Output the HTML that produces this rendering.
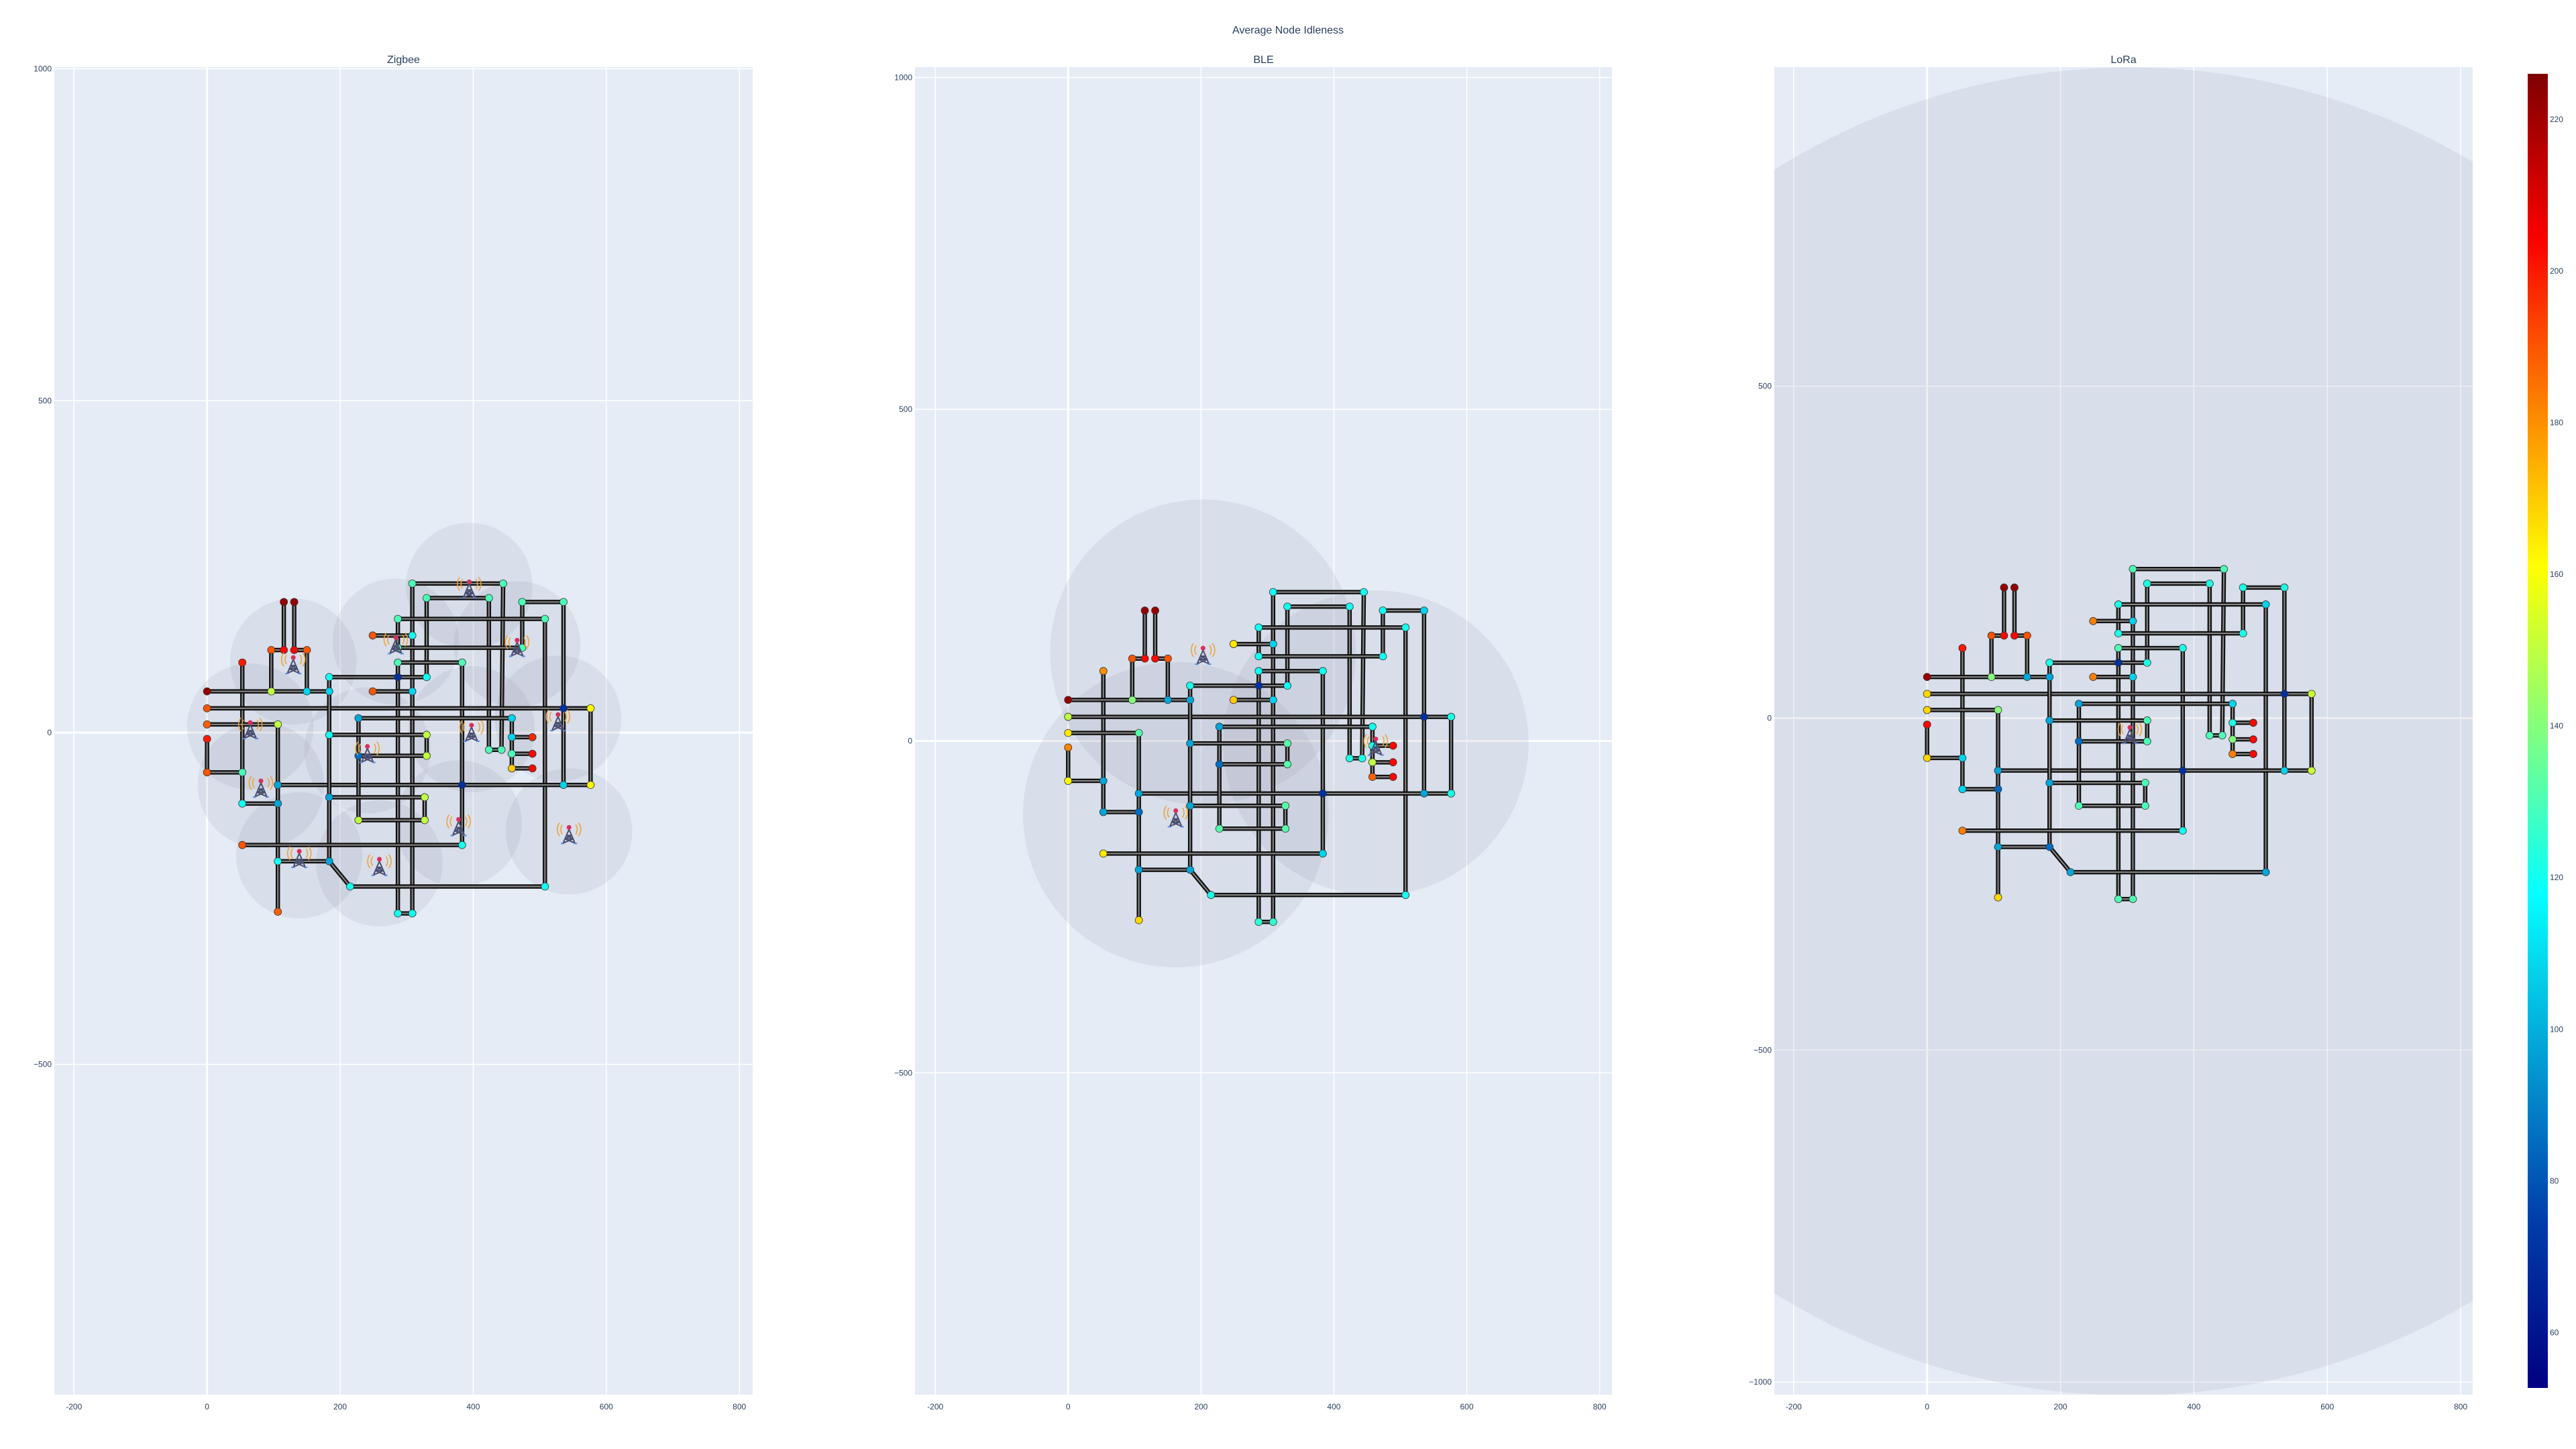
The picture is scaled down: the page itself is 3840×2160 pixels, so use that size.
<!DOCTYPE html>
<html><head><meta charset="utf-8"><style>
html,body{margin:0;padding:0;background:#fff;}
svg{display:block;font-family:"Liberation Sans",sans-serif;}
</style></head><body>
<svg id="chart" width="3840" height="2160" viewBox="0 0 3840 2160" xmlns="http://www.w3.org/2000/svg">
<defs>
<linearGradient id="jet" x1="0" y1="1" x2="0" y2="0">
<stop offset="0" stop-color="rgb(0,0,131)"/><stop offset="0.125" stop-color="rgb(0,60,170)"/>
<stop offset="0.375" stop-color="rgb(5,255,255)"/><stop offset="0.625" stop-color="rgb(255,255,0)"/>
<stop offset="0.875" stop-color="rgb(250,0,0)"/><stop offset="1" stop-color="rgb(128,0,0)"/>
</linearGradient>
<clipPath id="c0"><rect x="81" y="100" width="1041" height="1979"/></clipPath>
<clipPath id="c1"><rect x="1364" y="100" width="1039" height="1979"/></clipPath>
<clipPath id="c2"><rect x="2645" y="100" width="1041" height="1979"/></clipPath>
</defs>
<text x="1920" y="50" text-anchor="middle" font-size="16" fill="#2a3f5f">Average Node Idleness</text>
</svg>
<script>
const nodeX=[308.5,445,330,423.6,473.7,535.7,286.8,507.8,249,308.5,286.8,473.7,115.4,131,96.5,115.4,131,150,53,286.8,383.3,183.6,286.8,330,0,96.5,150,183.6,249,308.5,0,535.7,576.4,0,106.4,227.6,458,183.6,330,0,458,489,423.6,442.5,227.6,330,458,489,458,489,0,53,106.4,383.3,535.7,576.4,183.6,327,53,106.4,227.6,327,53,383.3,106.4,183.6,215,507.8,106.4,286.8,308.5];
const nodeY=[224.5,224.5,202.6,202.6,196.7,196.7,171.2,171.2,146.2,146.2,127.7,127.7,196.7,196.7,124.3,124.3,124.3,124.3,105.5,105.5,105.5,83.5,83.5,83.5,62,62,62,62,62,62,36.5,36.5,36.5,12.2,12.2,21.6,21.6,-3.5,-3.5,-9.7,-7,-7,-26,-26,-35,-35,-32,-32,-54,-54,-60,-60,-79,-79,-79,-79,-97.5,-97.5,-107,-107,-132,-132,-169.5,-169.5,-194,-194,-232,-232,-270,-272.5,-272.5];
const edgeFrom=[1,1,10,30,2,3,3,4,5,5,6,7,7,8,9,11,13,14,15,17,15,18,19,52,20,20,21,54,22,23,22,23,25,26,27,29,31,32,32,33,55,54,53,34,35,36,36,37,41,47,41,47,49,38,28,38,57,39,45,45,57,58,61,40,51,53,59,60,65,65,66,67,63,43,70];
const edgeTo=[2,10,30,71,44,4,24,43,6,12,32,8,11,68,10,12,16,17,16,18,26,27,52,59,21,23,54,64,23,24,28,70,26,27,28,30,32,33,55,56,56,55,54,35,53,37,45,41,47,49,42,48,50,39,38,57,66,46,46,61,58,62,62,51,52,60,60,65,69,66,67,68,64,44,71];
const valuesZigbee=[130,130,130,130,130,130,130,130,190,120,130,130,222,222,190,203,203,190,200,130,130,120,70,120,222,150,108,108,190,108,190,70,162,188,150,98,108,120,150,200,108,198,130,130,85,150,130,203,170,203,190,130,98,70,108,162,98,150,120,98,150,150,190,120,120,98,120,120,188,120,120];
const valuesBLE=[120,120,120,120,120,108,120,120,165,108,120,120,222,222,190,203,203,190,180,120,120,120,70,120,222,140,98,98,170,108,150,70,122,165,132,98,120,98,132,182,120,203,122,122,85,132,150,203,188,203,162,98,98,70,98,122,98,132,98,85,132,132,165,108,98,98,122,120,168,125,125];
const valuesLoRa=[130,130,122,122,122,122,122,108,183,108,122,122,222,222,190,203,203,190,200,130,122,122,70,122,222,140,98,98,183,108,168,70,152,168,140,98,108,98,130,203,122,203,130,130,85,130,140,203,183,203,168,108,98,70,108,152,98,130,108,85,130,130,183,120,98,85,98,98,168,130,130];
const towersZigbeeX=[394,283.6,466,129.6,65,397.5,527.5,241,81,378,544,138.6,259];
const towersZigbeeY=[221,137,133,107,9,5,21,-27,-79,-137,-149,-185,-197];
const towersBLEX=[203,162,463];
const towersBLEY=[134,-111,-3];
const towersLoRaX=[304];
const towersLoRaY=[-20];
const rangeZigbee=95, rangeBLE=230, rangeLoRa=1000;
const xTicks=[-200,0,200,400,600,800];
const cbTicks=[60,80,100,120,140,160,180,200,220];

const NS="http://www.w3.org/2000/svg";
const svg=document.getElementById('chart');
function mk(tag,attrs,parent){const e=document.createElementNS(NS,tag);for(const k in attrs)e.setAttribute(k,attrs[k]);(parent||svg).appendChild(e);return e;}
const VMIN=52.7,VMAX=226;
const stops=[[0,[0,0,131]],[0.125,[0,60,170]],[0.375,[5,255,255]],[0.625,[255,255,0]],[0.875,[250,0,0]],[1,[128,0,0]]];
function jet(v){let t=(v-VMIN)/(VMAX-VMIN);t=Math.max(0,Math.min(1,t));for(let i=1;i<stops.length;i++){if(t<=stops[i][0]){const a=stops[i-1],b=stops[i];const f=(t-a[0])/(b[0]-a[0]);return 'rgb('+a[1].map((c,j)=>Math.round(c+(b[1][j]-c)*f)).join(',')+')';}}return 'rgb(128,0,0)';}

const panels=[
 {name:'zigbee',title:'Zigbee',L:81,R:1122,T:100,B:2079,x0:-229.5,x1:820,y0:-997.6,y1:1002.6,yt:[-500,0,500,1000],vals:valuesZigbee,tx:towersZigbeeX,ty:towersZigbeeY,r:rangeZigbee,clip:'c0'},
 {name:'ble',title:'BLE',L:1364,R:2403,T:100,B:2079,x0:-230.5,x1:818.6,y0:-985,y1:1015.7,yt:[-500,0,500,1000],vals:valuesBLE,tx:towersBLEX,ty:towersBLEY,r:rangeBLE,clip:'c1'},
 {name:'lora',title:'LoRa',L:2645,R:3686,T:100,B:2079,x0:-229,x1:818,y0:-1019,y1:980.6,yt:[-1000,-500,0,500],vals:valuesLoRa,tx:towersLoRaX,ty:towersLoRaY,r:rangeLoRa,clip:'c2'}
];

function tower(g,cx,cy){
 const t=mk('g',{transform:'translate('+cx+','+cy+')'},g);
 mk('path',{d:'M-10,-10 A12,12 0 0,0 -10,4 M-14,-13 A16,16 0 0,0 -14,7 M10,-10 A12,12 0 0,1 10,4 M14,-13 A16,16 0 0,1 14,7',stroke:'#f0a030',fill:'none','stroke-width':1.5},t);
 mk('path',{d:'M0,-3 L-9,18 M0,-3 L9,18 M-4,6 L4,6 M-6,11 L6,11 M-4,6 L6,11 M4,6 L-6,11 M-6,11 L8,17 M6,11 L-8,17',stroke:'#4a4e70',fill:'none','stroke-width':2},t);
 mk('path',{d:'M-12,18 L-7,18 M7,18 L12,18',stroke:'#5a8ae0','stroke-width':2},t);
 mk('circle',{cx:0,cy:-6,r:3.5,fill:'#d8305a'},t);
}

panels.forEach(p=>{
 const sx=v=>p.L+(v-p.x0)/(p.x1-p.x0)*(p.R-p.L);
 const sy=v=>p.B-(v-p.y0)/(p.y1-p.y0)*(p.B-p.T);
 const g=mk('g',{});
 
 
 mk('rect',{x:p.L,y:p.T,width:p.R-p.L,height:p.B-p.T,fill:'#E5ECF6'},g);
 xTicks.forEach(v=>{
  const x=sx(v);
  mk('line',{x1:x,x2:x,y1:p.T,y2:p.B,stroke:'#fff','stroke-width':v===0?3:1.5},g);
  const t=mk('text',{x:x,y:p.B+22,'text-anchor':'middle','font-size':12,fill:'#2a3f5f'},g);t.textContent=v;
  
  
 });
 p.yt.forEach(v=>{
  const y=sy(v);
  mk('line',{x1:p.L,x2:p.R,y1:y,y2:y,stroke:'#fff','stroke-width':v===0?3:1.5},g);
  const t=mk('text',{x:p.L-4,y:y+4,'text-anchor':'end','font-size':12,fill:'#2a3f5f'},g);t.textContent=(v<0?'\u2212'+(-v):v);
  
  
 });
 const tt=mk('text',{x:(p.L+p.R)/2,y:94,'text-anchor':'middle','font-size':16,fill:'#2a3f5f'},g);tt.textContent=p.title;
 
 
 const cg=mk('g',{'clip-path':'url(#'+p.clip+')'},g);
 const kx=(p.R-p.L)/(p.x1-p.x0), ky=(p.B-p.T)/(p.y1-p.y0);
 p.tx.forEach((x,i)=>{
  const c=mk('ellipse',{cx:sx(x),cy:sy(p.ty[i]),rx:p.r*kx,ry:p.r*ky,fill:'rgba(140,145,160,0.14)'},cg);
  
  
 });
 edgeFrom.forEach((a,i)=>{
  const b=edgeTo[i];
  const x1=sx(nodeX[a-1]),y1=sy(nodeY[a-1]),x2=sx(nodeX[b-1]),y2=sy(nodeY[b-1]);
  mk('line',{x1,y1,x2,y2,stroke:'#111','stroke-width':6.5,'stroke-linecap':'round'},cg);
  const l=mk('line',{x1,y1,x2,y2,stroke:'#8a8a8a','stroke-width':2},cg);
  
  
 });
 nodeX.forEach((x,i)=>{
  const c=mk('circle',{cx:sx(x),cy:sy(nodeY[i]),r:5.5,fill:jet(p.vals[i]),stroke:'#333','stroke-width':0.8},cg);
  
  
 });
 p.tx.forEach((x,i)=>{
  const tg=mk('g',{},cg);
  
  
  tower(tg,sx(x),sy(p.ty[i]));
 });
});

// colorbar
const cb=mk('g',{});


const cbT=110,cbB=2069;
mk('rect',{x:3768,y:cbT,width:30,height:cbB-cbT,fill:'url(#jet)'},cb);
cbTicks.forEach(v=>{
 const y=cbB-(v-VMIN)/(VMAX-VMIN)*(cbB-cbT);
 const t=mk('text',{x:3801,y:y+4,'font-size':12,fill:'#2a3f5f'},cb);t.textContent=v;
 
 
});
</script>
</body></html>
